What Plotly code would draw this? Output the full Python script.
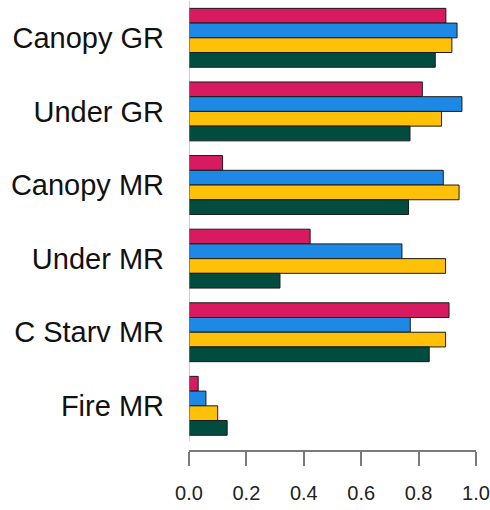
import plotly.graph_objects as go

# Kategorie (od góry) i wartości czterech serii
CATEGORIES = ["Canopy GR", "Under GR", "Canopy MR", "Under MR", "C Starv MR", "Fire MR"]
SERIES_NAMES = ["Seria 1", "Seria 2", "Seria 3", "Seria 4"]
RED_VALUES = [0.895, 0.813, 0.117, 0.422, 0.906, 0.032]
BLUE_VALUES = [0.934, 0.951, 0.886, 0.742, 0.771, 0.059]
YELLOW_VALUES = [0.916, 0.880, 0.941, 0.894, 0.894, 0.100]
GREEN_VALUES = [0.858, 0.770, 0.765, 0.317, 0.837, 0.133]
TICK_VALUES = [0.0, 0.2, 0.4, 0.6, 0.8, 1.0]
TICK_LABELS = ["0.0", "0.2", "0.4", "0.6", "0.8", "1.0"]

COLORS = ["#D81B60", "#1E88E5", "#FFC107", "#004D40"]
FONT = "Liberation Sans, Arial, sans-serif"


def main():
    fig = go.Figure()

    for name, vals, color in zip(
        SERIES_NAMES,
        [RED_VALUES, BLUE_VALUES, YELLOW_VALUES, GREEN_VALUES],
        COLORS,
    ):
        fig.add_trace(go.Bar(
            y=CATEGORIES,
            x=vals,
            orientation="h",
            name=name,
            marker=dict(color=color, line=dict(color="#1a1a1a", width=1)),
        ))

    # cienka linia przy x = 0
    fig.add_shape(
        type="line", xref="x", yref="paper",
        x0=0, x1=0, y0=0.02, y1=1,
        line=dict(color="#9a9a9a", width=1),
    )

    fig.update_layout(
        barmode="group",
        bargap=0.2,
        bargroupgap=0,
        showlegend=False,
        width=490,
        height=510,
        margin=dict(l=189, r=14, t=1, b=60, autoexpand=False),
        paper_bgcolor="white",
        plot_bgcolor="white",
        font=dict(family=FONT, color="#111111"),
    )
    fig.update_xaxes(
        range=[0, 1.0],
        tickvals=TICK_VALUES,
        ticktext=TICK_LABELS,
        ticks="outside",
        ticklen=14,
        tickwidth=2,
        tickcolor="#7a7a7a",
        showline=True,
        linecolor="#7a7a7a",
        linewidth=2,
        showgrid=False,
        zeroline=False,
        automargin=False,
        ticklabelstandoff=10,
        tickfont=dict(size=20, color="#222222"),
    )
    fig.update_yaxes(
        categoryorder="array",
        categoryarray=CATEGORIES,
        range=[5.6, -0.5],
        showline=False,
        showgrid=False,
        zeroline=False,
        ticks="",
        automargin=False,
        ticklabelstandoff=24,
        tickfont=dict(size=29, color="#111111"),
    )

    # bez domyślnego marginesu strony, żeby wykres zaczynał się w (0, 0)
    fig.write_html(
        "out.html",
        config={"displayModeBar": False},
        post_script="document.body.style.margin = '0';",
    )


if __name__ == "__main__":
    main()
